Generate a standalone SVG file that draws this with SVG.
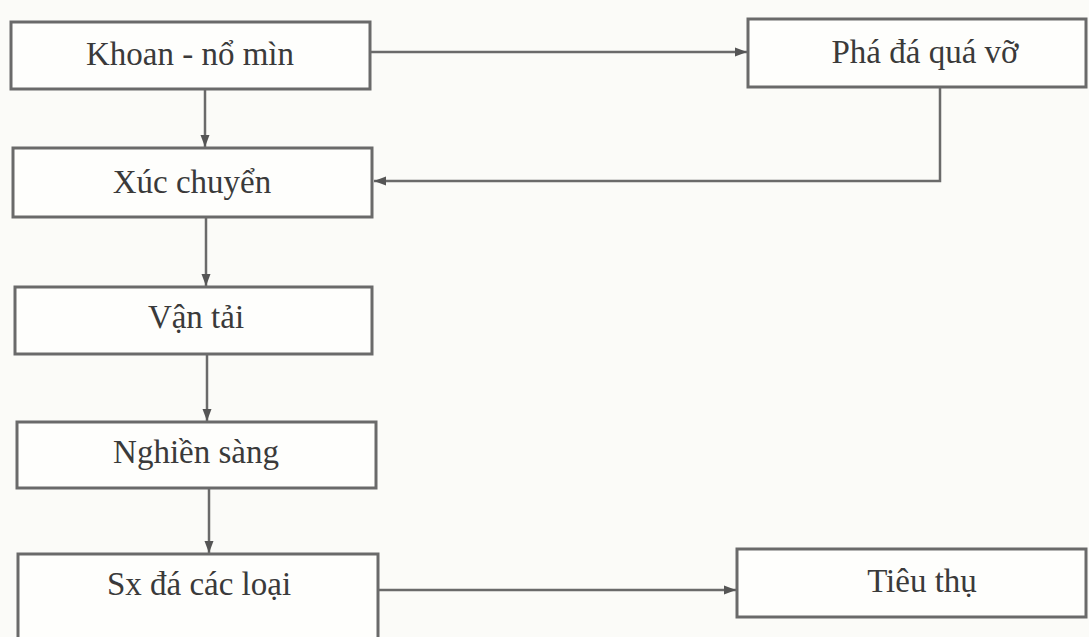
<svg xmlns="http://www.w3.org/2000/svg" width="1089" height="637" viewBox="0 0 1089 637">
<style>
.box{fill:#fefefc;stroke:#6a6a6a;stroke-width:3}
.lbl{font-family:"Liberation Serif","DejaVu Serif",serif;font-size:33px;fill:#3a3a3a;text-anchor:middle}
.ln{fill:none;stroke:#6a6a6a;stroke-width:2.5}
</style>
<defs>
<marker id="ah" viewBox="0 0 12 10" refX="12" refY="5" markerWidth="12" markerHeight="10" markerUnits="userSpaceOnUse" orient="auto">
<path d="M0,0.5 L12,5 L0,9.5 Z" fill="#555"/>
</marker>
</defs>
<rect width="1089" height="637" fill="#fbfbf8"/>
<g id="connectors">
<path class="ln" d="M370,52 H747" marker-end="url(#ah)"/>
<path class="ln" d="M940,87 V181 H374" marker-end="url(#ah)"/>
<path class="ln" d="M205,89 V147" marker-end="url(#ah)"/>
<path class="ln" d="M206,217 V286" marker-end="url(#ah)"/>
<path class="ln" d="M207,354 V421" marker-end="url(#ah)"/>
<path class="ln" d="M209,488 V553" marker-end="url(#ah)"/>
<path class="ln" d="M378,590 H736" marker-end="url(#ah)"/>
</g>
<g id="n1"><rect class="box" x="11" y="22" width="359" height="67"/><text class="lbl" x="190" y="65">Khoan - nổ mìn</text></g>
<g id="n2"><rect class="box" x="748" y="19" width="338" height="68"/><text class="lbl" x="925" y="63">Phá đá quá vỡ</text></g>
<g id="n3"><rect class="box" x="13" y="148" width="359" height="69"/><text class="lbl" x="192" y="193">Xúc chuyển</text></g>
<g id="n4"><rect class="box" x="15" y="287" width="357" height="67"/><text class="lbl" x="196" y="328">Vận tải</text></g>
<g id="n5"><rect class="box" x="17" y="422" width="359" height="66"/><text class="lbl" x="196" y="463">Nghiền sàng</text></g>
<g id="n6"><rect class="box" x="18" y="554" width="360" height="90"/><text class="lbl" x="199" y="595">Sx đá các loại</text></g>
<g id="n7"><rect class="box" x="737" y="549" width="349" height="68"/><text class="lbl" x="922" y="592">Tiêu thụ</text></g>
</svg>
